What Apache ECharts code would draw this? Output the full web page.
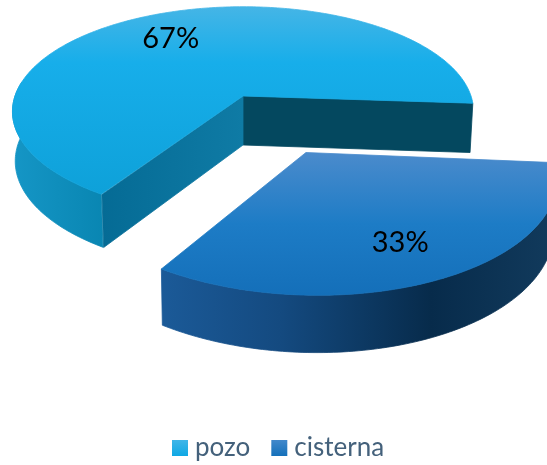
<!DOCTYPE html>
<html><head><meta charset="utf-8">
<style>html,body{margin:0;padding:0;background:#fff}#c{width:547px;height:465px}</style>
<script src="https://cdn.jsdelivr.net/npm/echarts@6/dist/echarts.min.js"></script>
</head><body><div id="c"></div>
<script>
const categories = ['pozo', 'cisterna'];
const values = [67, 33];
const explode = [0, 0.57];

// perspective model of the tilted disc
const CX = 243, CY = 96, RX = 228, RY = 102.5, K = 0.148, START = -4;
function project(X, Y) {
  const w = 1 - K * Y;
  return { x: CX + X * RX / w, y: CY + Y * RY / w, w };
}
function drop(p) {
  return [CX + (p.x - CX) * 0.988, p.y + 20 + 29 / p.w];
}
const lin = (horizontal, stops) => ({
  type: 'linear', x: 0, y: 0, x2: horizontal ? 1 : 0, y2: horizontal ? 0 : 1,
  colorStops: stops.map(c => ({ offset: c[0], color: c[1] }))
});
const skins = [
  {
    top: lin(false, [[0, '#45b5e6'], [0.3, '#17aeea'], [1, '#0ea1d9']]),
    side: lin(true, [[0, '#1596c6'], [1, '#0986b2']]),
    wallA: '#04485f',
    wallB: lin(true, [[0, '#056b95'], [1, '#0f7ba5']]),
    legend: lin(false, [[0, '#3fb5e8'], [1, '#0fa8e4']]),
    label: { turn: 3, r: 0.7 }
  },
  {
    top: lin(false, [[0, '#4b8bcc'], [0.5, '#1d7cc6'], [1, '#146fb9']]),
    side: lin(true, [[0, '#1b5a98'], [0.3, '#144a80'], [0.68, '#072b4b'], [1, '#123b5d']]),
    wallA: null, wallB: null,
    legend: lin(false, [[0, '#4288cb'], [1, '#1470ba']]),
    label: { turn: -1.5, r: 0.74 }
  }
];
const total = values.reduce((a, b) => a + b, 0);
const rad = d => d * Math.PI / 180;

function makeRender(idx) {
  return function (params, api) {
    const v = api.value(0);
    let a0 = START;
    for (let i = 0; i < idx; i++) a0 += values[i] / total * 360;
    const a1 = a0 + v / total * 360, mid = (a0 + a1) / 2;
    const ox = explode[idx] * Math.cos(rad(mid)), oy = -explode[idx] * Math.sin(rad(mid));
    const at = (deg, r) => project(ox + r * Math.cos(rad(deg)), oy - r * Math.sin(rad(deg)));
    const arc = [], sideUp = [], sideLow = [];
    for (let d = a0; d <= a1 + 1e-6; d += 1) {
      const p = at(d, 1);
      arc.push([p.x, p.y]);
      if (d >= 172) { sideUp.push([p.x, p.y]); sideLow.push(drop(p)); }
    }
    const apex = at(0, 0), s = at(a0, 1), e = at(a1, 1);
    const poly = (points, fill) => ({
      type: 'polygon', shape: { points },
      style: { fill, stroke: fill, lineWidth: 0.8, lineJoin: 'round' }
    });
    const sk = skins[idx];
    const label = at(mid + sk.label.turn, sk.label.r);
    const children = [poly(sideUp.concat(sideLow.slice().reverse()), sk.side)];
    if (sk.wallA) children.push(poly([[apex.x, apex.y], [s.x, s.y], drop(s), drop(apex)], sk.wallA));
    if (sk.wallB) children.push(poly([[apex.x, apex.y], [e.x, e.y], drop(e), drop(apex)], sk.wallB));
    children.push(poly([[apex.x, apex.y]].concat(arc), sk.top));
    children.push({ type: 'text', style: {
      x: label.x, y: label.y, text: Math.round(v / total * 100) + '%',
      fill: '#000', font: '29px Lato', align: 'center', verticalAlign: 'middle'
    } });
    return { type: 'group', children };
  };
}

const chart = echarts.init(document.getElementById('c'), null, { renderer: 'canvas' });
chart.setOption({
  animation: false,
  backgroundColor: '#fff',
  legend: {
    left: 167, top: 430, itemWidth: 16, itemHeight: 16, itemGap: 21,
    icon: 'rect', selectedMode: false,
    textStyle: { fontFamily: 'Lato', fontSize: 26, color: '#44617b', padding: [0, 0, 0, 2] },
    data: categories.map((name, i) => ({ name, itemStyle: { color: skins[i].legend } }))
  },
  series: categories.map((name, i) => ({
    type: 'custom', name, coordinateSystem: 'none', silent: true,
    itemStyle: { color: skins[i].legend },
    renderItem: makeRender(i),
    data: [[values[i]]]
  }))
});
</script></body></html>
